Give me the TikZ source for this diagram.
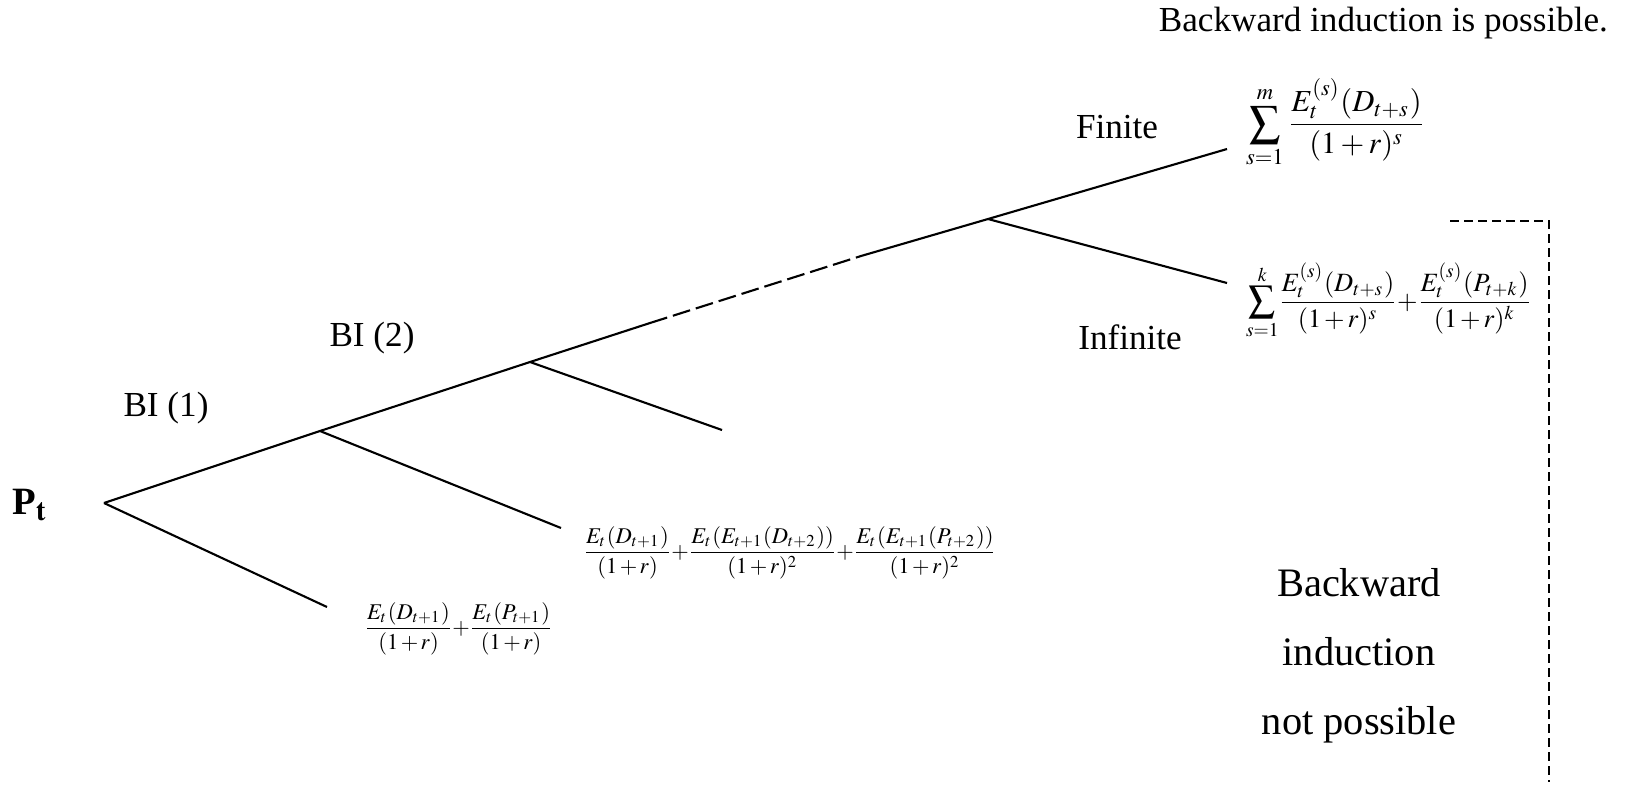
\documentclass[tikz,border=0pt]{standalone}
\usepackage{mathptmx}
\usepackage{fontspec}
\setmainfont{Liberation Serif}
\newcommand\snugmath{\medmuskip=2mu\nulldelimiterspace=0pt\relax}

\begin{document}
\begin{tikzpicture}[x=0.1mm,y=-0.1mm,line width=0.6pt,
  lbl/.style={inner sep=0pt,font=\fontsize{10}{12}\selectfont},
  frm/.style={inner sep=0pt,anchor=west,font=\fontsize{6.4}{8}\selectfont\snugmath},
  gap/.style={dash pattern=on 1.8mm off 0.6mm},
  brk/.style={line width=0.5pt,dash pattern=on 0.9mm off 0.5mm}]
\useasboundingbox (0,0) rectangle (1630,790);
\coordinate (root) at (104,503);
\coordinate (bi1) at (320,431);
\coordinate (bi2) at (530,362);
\coordinate (dashA) at (650,323);
\coordinate (dashB) at (861,256);
\coordinate (bi3) at (988,219);
\coordinate (finEnd) at (1227,149);
\coordinate (infEnd) at (1227,283);
\coordinate (rootEnd) at (327,607);
\coordinate (bi1End) at (561,528);
\coordinate (bi2End) at (722,430);
\coordinate (brA) at (1450,221);
\coordinate (brB) at (1549,221);
\coordinate (brC) at (1549,782);
\draw (root) -- (bi1) -- (bi2) -- (dashA);
\draw[gap] (dashA) -- (dashB);
\draw (dashB) -- (bi3) -- (finEnd);
\draw (root) -- (rootEnd);
\draw (bi1) -- (bi1End);
\draw (bi2) -- (bi2End);
\draw (bi3) -- (infEnd);
\draw[brk] (brA) -- (brB) -- (brC);
\node[inner sep=0pt] (pt) at (30,505) {\fontsize{11}{13}\selectfont\textbf{P}$_{\mathbf{t}}$};
\node[lbl] (bione) at (166,408) {BI (1)};
\node[lbl] (bitwo) at (372,338) {BI (2)};
\node[lbl] (finite) at (1117,127) {Finite};
\node[lbl] (infinite) at (1130,337) {Infinite};
\node[lbl,anchor=east] (possible) at (1609,23) {Backward induction is possible.};
\node[inner sep=0pt,align=center,font=\fontsize{11.5}{19.6}\selectfont] (notposs) at (1359,656) {Backward\\induction\\not possible};
\node[frm,font=\fontsize{8.7}{10}\selectfont] (finf) at (1245,123) {$\displaystyle\sum_{s=1}^{m}\frac{E_t^{(s)}(D_{t+s})}{(1+r)^s}$};
\node[frm,font=\fontsize{7.5}{9}\selectfont\snugmath] (inff) at (1245,301) {$\displaystyle\sum_{s=1}^{k}\frac{E_t^{(s)}(D_{t+s})}{(1+r)^s}+\frac{E_t^{(s)}(P_{t+k})}{(1+r)^k}$};
\node[frm] (bionef) at (585,553) {$\displaystyle\frac{E_t(D_{t+1})}{(1+r)}+\frac{E_t(E_{t+1}(D_{t+2}))}{(1+r)^2}+\frac{E_t(E_{t+1}(P_{t+2}))}{(1+r)^2}$};
\node[frm] (rootf) at (366,629) {$\displaystyle\frac{E_t(D_{t+1})}{(1+r)}+\frac{E_t(P_{t+1})}{(1+r)}$};
\end{tikzpicture}
\end{document}
